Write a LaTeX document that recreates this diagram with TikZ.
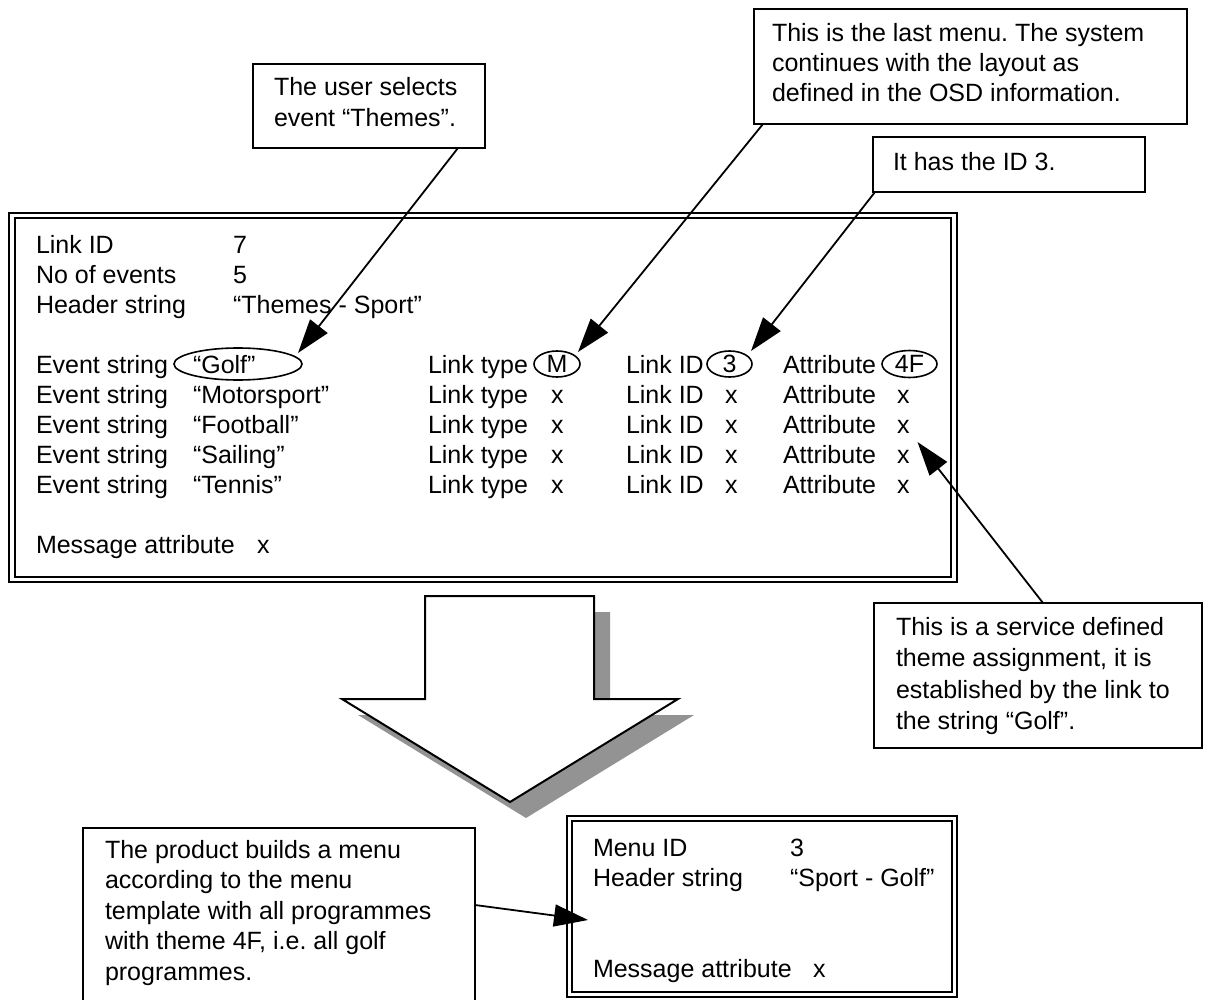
\documentclass[tikz,border=0pt]{standalone}
\usepackage{fontspec}
\setmainfont{Liberation Sans}
\usetikzlibrary{arrows.meta,shapes.geometric}
\definecolor{shadowgray}{HTML}{939393}
\frenchspacing
\begin{document}
\begin{tikzpicture}[x=1pt,y=-1pt,
  every node/.style={inner sep=0pt, outer sep=0pt},
  lbl/.style={anchor=base west, font=\fontsize{25}{30}\selectfont},
  note/.style={anchor=north west, align=left},
  box/.style={draw, line width=2pt, anchor=north west},
  frameout/.style={draw, line width=2.6pt, anchor=north west},
  framein/.style={draw, line width=1.4pt, anchor=north west},
  oval/.style={draw, ellipse, line width=1.6pt, font=\fontsize{25}{30}\selectfont},
  leader/.style={line width=1.8pt, -{Triangle[length=34pt,width=22pt]}},
]
\useasboundingbox (0,0) rectangle (1206,1000);

% ---------- main message frame ----------
\node[frameout, minimum width=948pt, minimum height=369pt] (main) at (9,213) {};
\node[framein, minimum width=936pt, minimum height=359pt] (mainin) at (15,218) {};

\node[lbl] (lid)  at (36,253) {Link ID};
\node[lbl] (lidv) at (233,253) {7};
\node[lbl] (noe)  at (36,283) {No of events};
\node[lbl] (noev) at (233,283) {5};
\node[lbl] (hs)   at (36,313) {Header string};
\node[lbl] (hsv)  at (233,313) {“Themes - Sport”};

% row 1 (with marked values)
\node[lbl] (es1) at (36,373) {Event string};
\node[lbl] (ev1) at (193,373) {“Golf”};
\node[oval, minimum width=128pt, minimum height=32pt] (golf) at (238,364) {};
\node[lbl] (lt1) at (428,373) {Link type};
\node[oval, minimum width=46pt, minimum height=26pt] (mov) at (557,364) {M};
\node[lbl] (li1) at (626,373) {Link ID};
\node[oval, minimum width=45pt, minimum height=26pt] (idov) at (729.5,364) {3};
\node[lbl] (at1) at (783,373) {Attribute};
\node[oval, minimum width=55pt, minimum height=27pt] (fov) at (909.5,364) {4F};

% rows 2-5
\foreach \i/\y/\v in {2/403/“Motorsport”,3/433/“Football”,4/463/“Sailing”,5/493/“Tennis”}{
  \node[lbl] (es\i) at (36,\y) {Event string};
  \node[lbl] (ev\i) at (193,\y) {\v};
  \node[lbl] (lt\i) at (428,\y) {Link type};
  \node[lbl] (ltx\i) at (551,\y) {x};
  \node[lbl] (li\i) at (626,\y) {Link ID};
  \node[lbl] (lix\i) at (725,\y) {x};
  \node[lbl] (at\i) at (783,\y) {Attribute};
  \node[lbl] (ax\i) at (897,\y) {x};
}
\node[lbl] (ma)  at (36,553) {Message attribute};
\node[lbl] (max) at (257,553) {x};

% ---------- resulting menu frame ----------
\node[frameout, minimum width=390pt, minimum height=181pt] (menu) at (567,816) {};
\node[framein, minimum width=380pt, minimum height=171pt] (menuin) at (572,821) {};
\node[lbl] (mid)  at (593,856) {Menu ID};
\node[lbl] (midv) at (790,856) {3};
\node[lbl] (mhs)  at (593,886) {Header string};
\node[lbl] (mhsv) at (790,886) {“Sport - Golf”};
\node[lbl] (mma)  at (593,977) {Message attribute};
\node[lbl] (mmax) at (813,977) {x};

% ---------- big block arrow with shadow ----------
\fill[shadowgray] (441,612) -- (610,612) -- (610,715) -- (694,715) -- (526,818) -- (358,715) -- (441,715) -- cycle;
\draw[line width=2pt, fill=white, line join=miter] (425,596) -- (594,596) -- (594,699) -- (678,699) -- (510,802) -- (342,699) -- (425,699) -- cycle;

% ---------- callouts ----------
\node[box, minimum width=232pt, minimum height=84pt] (ubox) at (253,64) {};
\node[note, font=\fontsize{25}{31}\selectfont] (utext) at (274,74.3) {\strut The user selects\\event “Themes”.};

\node[box, minimum width=433pt, minimum height=115pt] (lastbox) at (754,9) {};
\node[note, font=\fontsize{25}{30}\selectfont] (lasttext) at (772,21) {\strut This is the last menu. The system\\continues with the layout as\\defined in the OSD information.};

\node[box, minimum width=272pt, minimum height=55pt] (idbox) at (873,137) {};
\node[lbl] (idtext) at (893,171) {It has the ID 3.};

\node[box, minimum width=328pt, minimum height=145pt] (svcbox) at (874,603) {};
\node[note, font=\fontsize{25}{31.5}\selectfont] (svctext) at (896,612.95) {\strut This is a service defined\\theme assignment, it is\\established by the link to\\the string “Golf”.};

\node[box, minimum width=392pt, minimum height=190pt] (prodbox) at (83,828) {};
\node[note, font=\fontsize{25}{30.5}\selectfont] (prodtext) at (105,836.65) {\strut The product builds a menu\\according to the menu\\template with all programmes\\with theme 4F, i.e. all golf\\programmes.};

% ---------- leader arrows ----------
\draw[leader] ([xshift=-27pt]ubox.south east) -- ([shift={(60,-11)}]golf.center);
\draw[leader] ([xshift=9pt]lastbox.south west) -- ([shift={(21,-12)}]mov.center);
\draw[leader] ([xshift=2pt]idbox.south west) -- ([shift={(21.5,-13)}]idov.center);
\draw[leader] ([xshift=169pt]svcbox.north west) -- ([shift={(8,9)}]ax3.south east);
\draw[leader] ([yshift=-77pt]prodbox.north east) -- ([shift={(21,104)}]menu.north west);
\end{tikzpicture}
\end{document}
